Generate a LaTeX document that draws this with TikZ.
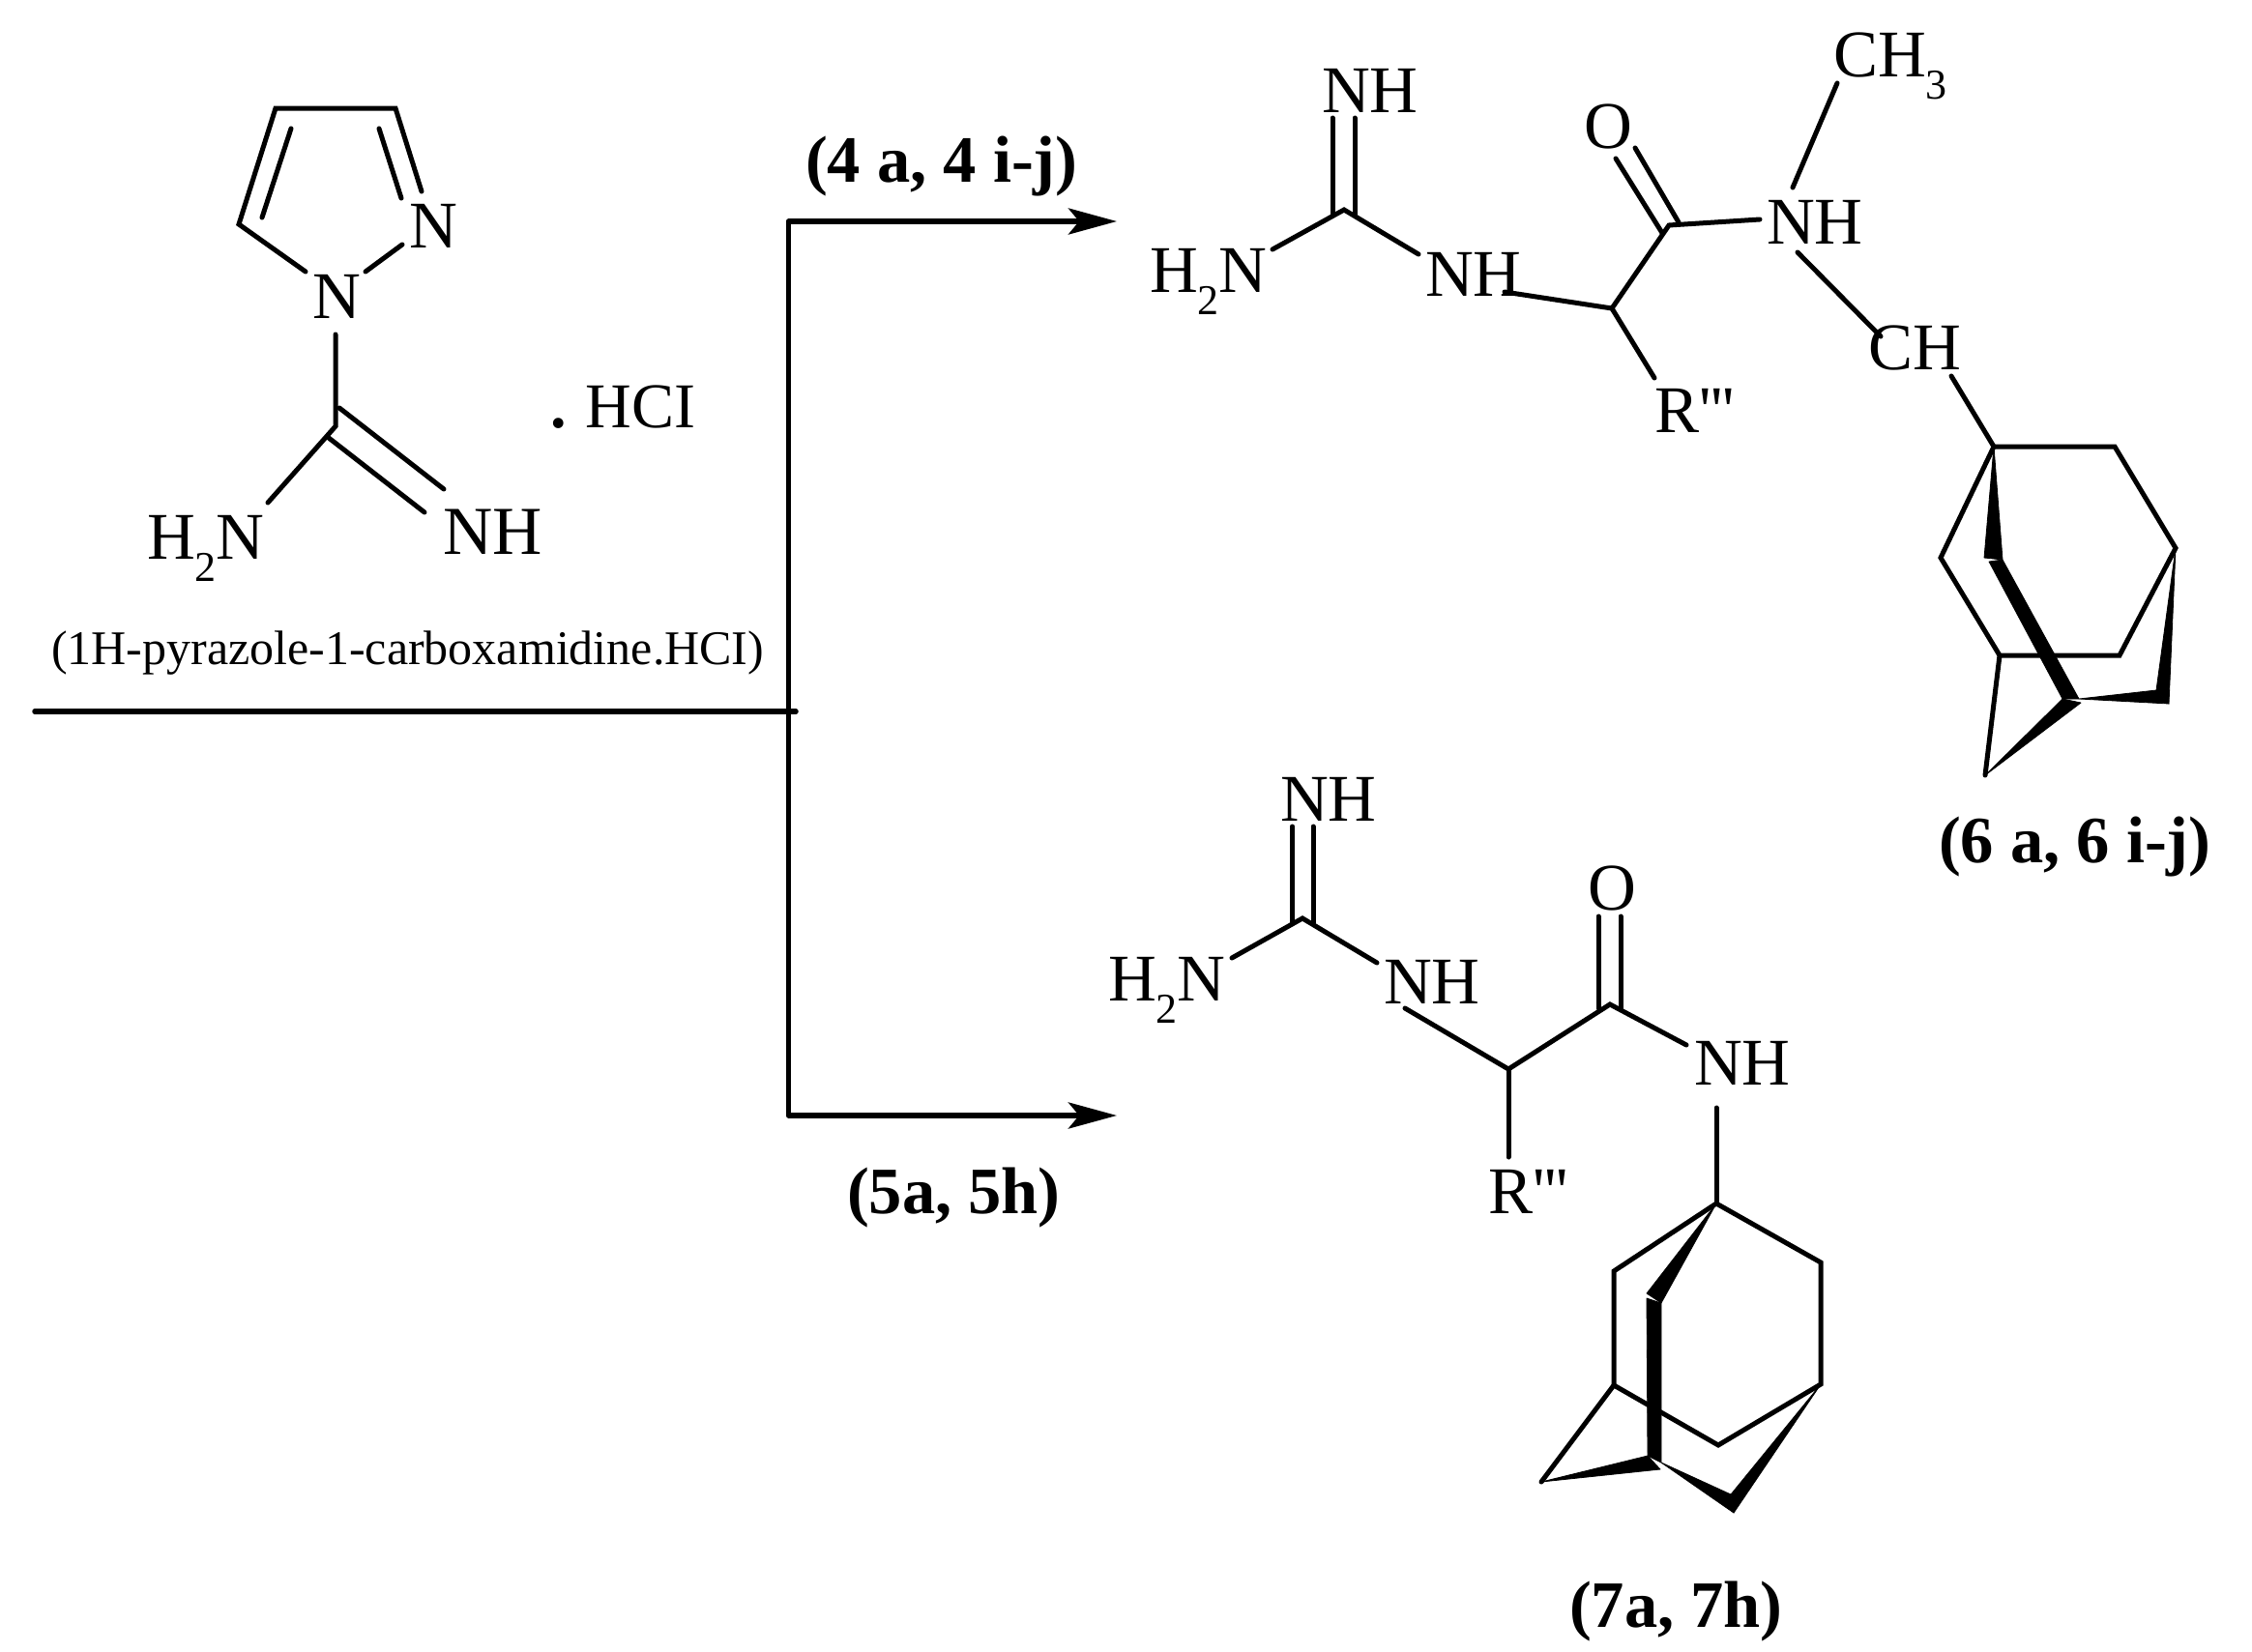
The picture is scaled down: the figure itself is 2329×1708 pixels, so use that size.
\documentclass[tikz,border=0pt]{standalone}
\usepackage{fontspec}
\usetikzlibrary{arrows.meta}
\newfontfamily\chemfont{Liberation Serif}
\newcommand{\subtwo}[1]{\raisebox{-23pt}{\fontsize{44}{44}\selectfont #1}}
\tikzset{
  bond/.style={line width=5pt,line cap=round,line join=miter},
  wedge/.style={fill=black,draw=black,line width=0.8pt,line join=round},
  atom/.style={inner sep=0pt,outer sep=0pt,anchor=base west,font=\chemfont\fontsize{69}{69}\selectfont},
  caption/.style={inner sep=0pt,outer sep=0pt,anchor=base west,font=\chemfont\fontsize{50}{50}\selectfont},
  cmpd/.style={inner sep=0pt,outer sep=0pt,anchor=base west,font=\chemfont\bfseries\fontsize{68.5}{68.5}\selectfont},
  rxn/.style={line width=5.5pt,line join=round,{Stealth[length=50pt,width=27pt,inset=11pt]}-{Stealth[length=50pt,width=27pt,inset=11pt]}},
  rule/.style={line width=5.5pt,line cap=round}
}
\begin{document}
\begin{tikzpicture}[x=1pt,y=-1pt]
\useasboundingbox (0,0) rectangle (2329,1708);
% ---------- reagent ----------
\coordinate (c4) at (285,112); \coordinate (c3) at (409,112); \coordinate (c5) at (247,232);
\coordinate (c3n) at (436,198); \coordinate (d1a) at (392,133); \coordinate (d1b) at (415,205);
\coordinate (d2a) at (301,133); \coordinate (d2b) at (271,225);
\coordinate (c5n) at (316,281); \coordinate (n1e) at (378,281); \coordinate (n2w) at (416,253);
\coordinate (n1s) at (347,346); \coordinate (cam) at (347,441); \coordinate (h2e) at (277,520);
\coordinate (e1a) at (351,422); \coordinate (e1b) at (459,506);
\coordinate (e2a) at (340,453); \coordinate (e2b) at (439,530);
\draw[bond] (c5n) -- (c5) -- (c4) -- (c3) -- (c3n);
\draw[bond] (d1a) -- (d1b);
\draw[bond] (d2a) -- (d2b);
\draw[bond] (n1e) -- (n2w);
\draw[bond] (n1s) -- (cam) -- (h2e);
\draw[bond] (e1a) -- (e1b);
\draw[bond] (e2a) -- (e2b);
\node[atom] (rn2) at (423,256) {N};
\node[atom] (rn1) at (323,329) {N};
\node[atom] (rh2n) at (152,578) {H\subtwo{2}N};
\node[atom,font=\chemfont\fontsize{71}{71}\selectfont] (rnh) at (458,573) {NH};
\node[atom,font=\chemfont\fontsize{66}{66}\selectfont] (rhcl) at (569,442) {{\bfseries .}\hspace{20pt}HCI};
\node[caption] (rcap) at (53,687) {(1H-pyrazole-1-carboxamidine.HCI)};
% ---------- reaction lines ----------
\coordinate (rulea) at (36,736); \coordinate (ruleb) at (823,736);
\coordinate (tip1) at (1155,229); \coordinate (cor1) at (815.5,229);
\coordinate (cor2) at (815.5,1154); \coordinate (tip2) at (1155,1154);
\draw[rule] (rulea) -- (ruleb);
\draw[rxn] (tip1) -- (cor1) -- (cor2) -- (tip2);
\node[cmpd] (l4) at (833,188) {(4 a, 4 i-j)};
\node[cmpd] (l5) at (876,1255) {(5a, 5h)};
\node[cmpd] (l6) at (2005,892) {(6 a, 6 i-j)};
\node[cmpd] (l7) at (1623,1683) {(7a, 7h)};
% ---------- upper product ----------
\coordinate (tc) at (1390,217);
\coordinate (tda) at (1378,122); \coordinate (tdb) at (1378,222);
\coordinate (tea) at (1401,122); \coordinate (teb) at (1401,222);
\coordinate (th2) at (1316,258); \coordinate (tnh) at (1467,263);
\coordinate (tna) at (1556,302); \coordinate (tca) at (1667,319);
\coordinate (tco) at (1726,233); \coordinate (trr) at (1711,391);
\coordinate (toa) at (1671,164); \coordinate (tob) at (1719,241);
\coordinate (tpa) at (1691,153); \coordinate (tpb) at (1736,230);
\coordinate (tnr) at (1820,227); \coordinate (tn1) at (1854,194); \coordinate (tme) at (1900,86);
\coordinate (tn2) at (1859,261); \coordinate (tch) at (1945,348);
\coordinate (tcj) at (2018,389);
\draw[bond] (tda) -- (tdb);
\draw[bond] (tea) -- (teb);
\draw[bond] (th2) -- (tc) -- (tnh);
\draw[bond] (tna) -- (tca) -- (tco) -- (tnr);
\draw[bond] (tca) -- (trr);
\draw[bond] (toa) -- (tob);
\draw[bond] (tpa) -- (tpb);
\draw[bond] (tn1) -- (tme);
\draw[bond] (tn2) -- (tch);
\node[atom] (a1) at (1367,116) {NH};
\node[atom] (a2) at (1189,302) {H\subtwo{2}N};
\node[atom] (a3) at (1474,306) {NH};
\node[atom] (a4) at (1711,447) {R'''};
\node[atom] (a5) at (1638,153) {O};
\node[atom] (a6) at (1827,252) {NH};
\node[atom] (a7) at (1896,79) {CH\subtwo{3}};
\node[atom] (a8) at (1932,382) {CH};
% upper adamantane
\coordinate (ua) at (2062,462); \coordinate (ub) at (2187,462); \coordinate (uc) at (2250,567);
\coordinate (ud) at (2192,678); \coordinate (ue) at (2068,678); \coordinate (uf) at (2007,577);
\coordinate (ug) at (2053,802);
\coordinate (u1) at (2052,577); \coordinate (u2) at (2071,579); \coordinate (u3) at (2057,581);
\coordinate (u4) at (2133,723); \coordinate (u5) at (2150,723); \coordinate (u6) at (2152,727);
\coordinate (u7) at (2230,714); \coordinate (u8) at (2243,728);
\draw[bond] (tcj) -- (ua);
\draw[bond] (ua) -- (ub) -- (uc) -- (ud) -- (ue) -- (uf) -- cycle;
\draw[bond] (ue) -- (ug);
\fill[wedge] (ua) -- (u1) -- (u2) -- cycle;
\fill[wedge] (u3) -- (u2) -- (u5) -- (u4) -- cycle;
\fill[wedge] (ug) -- (u4) -- (u6) -- cycle;
\fill[wedge] (u5) -- (u7) -- (u8) -- cycle;
\fill[wedge] (uc) -- (u7) -- (u8) -- cycle;
% ---------- lower product ----------
\coordinate (lc) at (1347,950);
\coordinate (lda) at (1336.5,855); \coordinate (ldb) at (1336.5,955);
\coordinate (lea) at (1358,855); \coordinate (leb) at (1358,955);
\coordinate (lh2) at (1274,991); \coordinate (lnh) at (1424,996);
\coordinate (lna) at (1453,1043); \coordinate (lca) at (1560,1106);
\coordinate (lco) at (1665,1039); \coordinate (lrr) at (1560,1197);
\coordinate (loa) at (1653,948); \coordinate (lob) at (1653,1043);
\coordinate (lpa) at (1676,948); \coordinate (lpb) at (1676,1043);
\coordinate (lnr) at (1744,1081); \coordinate (lnd) at (1775,1146);
\draw[bond] (lda) -- (ldb);
\draw[bond] (lea) -- (leb);
\draw[bond] (lh2) -- (lc) -- (lnh);
\draw[bond] (lna) -- (lca) -- (lco) -- (lnr);
\draw[bond] (lca) -- (lrr);
\draw[bond] (loa) -- (lob);
\draw[bond] (lpa) -- (lpb);
\node[atom] (b1) at (1324,849) {NH};
\node[atom] (b2) at (1146,1035) {H\subtwo{2}N};
\node[atom] (b3) at (1431,1038) {NH};
\node[atom] (b4) at (1539,1255) {R'''};
\node[atom] (b5) at (1642,941) {O};
\node[atom] (b6) at (1752,1122) {NH};
% lower adamantane
\coordinate (vp) at (1775,1245); \coordinate (vq) at (1883,1306); \coordinate (vr) at (1883,1432);
\coordinate (vs) at (1777,1495); \coordinate (vt) at (1669,1433); \coordinate (vu) at (1669,1315);
\coordinate (vg) at (1594,1533);
\coordinate (v1) at (1703,1338); \coordinate (v2) at (1718,1348); \coordinate (v3) at (1703,1343);
\coordinate (v4) at (1704,1506); \coordinate (v5) at (1718,1513); \coordinate (v6) at (1717,1520);
\coordinate (v7) at (1790,1546); \coordinate (v8) at (1793,1565);
\draw[bond] (lnd) -- (vp);
\draw[bond] (vp) -- (vq) -- (vr) -- (vs) -- (vt) -- (vu) -- cycle;
\draw[bond] (vt) -- (vg);
\fill[wedge] (vp) -- (v1) -- (v2) -- cycle;
\fill[wedge] (v3) -- (v2) -- (v5) -- (v4) -- cycle;
\fill[wedge] (vg) -- (v4) -- (v6) -- cycle;
\fill[wedge] (v5) -- (v7) -- (v8) -- cycle;
\fill[wedge] (vr) -- (v7) -- (v8) -- cycle;
\end{tikzpicture}
\end{document}
